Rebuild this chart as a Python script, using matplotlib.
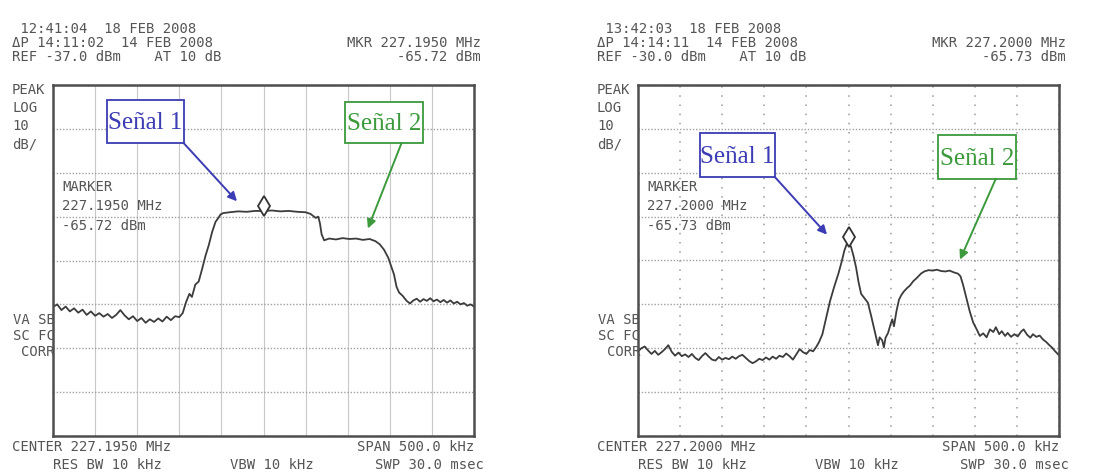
import matplotlib
matplotlib.use('Agg')
import matplotlib.pyplot as plt
from matplotlib import transforms
from matplotlib.patches import Rectangle

W, H = 1104, 476

#----------------------------------------------------------------------
# sweep data: offset from centre frequency (kHz), level (dBm)
#----------------------------------------------------------------------
left_khz = [-250, -245, -240, -235, -230, -225, -220, -215, -210, -205,
            -200, -195, -190, -185, -180, -175, -170, -165, -160, -155,
            -150, -145, -140, -135, -130, -125, -120, -115, -110, -105,
            -100, -96, -92, -88, -85, -81, -77, -73, -69, -65,
            -61, -57, -54, -51, -48, -40, -30, -20, -10, 0,
            10, 20, 30, 40, 50, 56, 62, 65, 67, 69,
            72, 78, 86, 94, 102, 110, 118, 126, 133, 138,
            143, 148, 152, 155, 158, 161, 165, 170, 174, 178,
            182, 186, 190, 194, 198, 202, 206, 210, 214, 218,
            222, 226, 230, 234, 238, 242, 246, 250]
left_dbm = [-87.6, -87.0, -88.3, -87.5, -88.6, -87.9, -88.9, -88.2, -89.4, -88.6,
            -89.6, -89.0, -89.8, -89.2, -90.1, -89.4, -88.3, -89.5, -90.4, -89.7,
            -90.8, -90.1, -91.2, -90.4, -91.0, -90.2, -90.9, -89.8, -90.6, -89.7,
            -89.9, -89.0, -86.5, -84.6, -85.3, -82.5, -81.8, -79.0, -76.0, -73.5,
            -70.5, -68.2, -67.4, -66.5, -66.2, -66.0, -65.8, -65.9, -65.7, -65.72,
            -65.6, -65.8, -65.7, -65.9, -66.0, -66.4, -67.3, -67.0, -68.5, -71.0,
            -72.4, -72.0, -72.2, -71.9, -72.1, -72.0, -72.3, -72.1, -72.6, -73.3,
            -74.5, -76.3, -78.5, -80.2, -83.0, -84.3, -85.0, -86.2, -86.8, -86.1,
            -85.7, -86.4, -85.8, -86.2, -85.6, -86.3, -85.9, -86.5, -86.0, -86.6,
            -86.1, -86.8, -86.4, -87.0, -86.7, -87.3, -87.0, -87.5]

right_khz = [-250, -246, -242, -238, -234, -230, -226, -222, -218, -214,
             -210, -206, -202, -198, -194, -190, -186, -182, -178, -174,
             -170, -166, -162, -158, -154, -150, -146, -142, -138, -134,
             -130, -126, -122, -118, -114, -110, -106, -102, -98, -94,
             -90, -86, -82, -78, -74, -70, -66, -62, -58, -54,
             -50, -46, -42, -38, -35, -31, -27, -22, -17, -12,
             -8, -5, -2, 0, 3, 6, 9, 12, 15, 19,
             23, 27, 31, 35, 37, 40, 42, 44, 47, 50,
             52, 54, 57, 60, 63, 66, 70, 73, 77, 81,
             86, 90, 95, 100, 105, 110, 115, 120, 125, 130,
             133, 136, 139, 141, 144, 148, 152, 156, 160, 164,
             168, 172, 175, 179, 182, 186, 189, 193, 197, 201,
             205, 208, 212, 216, 219, 223, 227, 231, 235, 238,
             242, 245, 248, 250]
right_dbm = [-90.7, -90.0, -89.6, -90.5, -91.3, -90.6, -91.5, -90.9, -90.2, -89.3,
             -90.8, -91.7, -91.0, -91.8, -91.4, -92.0, -91.3, -92.2, -92.7, -91.8,
             -91.1, -91.9, -92.6, -92.8, -92.0, -92.6, -92.2, -92.5, -91.9, -92.4,
             -91.8, -91.5, -92.2, -92.9, -93.4, -93.0, -92.4, -92.7, -92.1, -92.6,
             -91.9, -92.4, -91.7, -92.0, -91.2, -91.8, -92.6, -91.4, -90.2, -90.9,
             -91.3, -90.4, -90.7, -89.6, -88.6, -86.8, -83.5, -79.3, -76.0, -73.0,
             -70.2, -67.8, -66.2, -65.73, -66.9, -69.0, -71.6, -75.0, -77.6, -78.6,
             -79.6, -82.7, -86.0, -89.3, -87.5, -88.2, -89.8, -87.6, -86.5, -84.5,
             -83.4, -85.0, -81.5, -78.9, -77.8, -77.0, -76.2, -75.7, -74.7, -74.0,
             -73.0, -72.5, -72.2, -72.3, -72.1, -72.4, -72.5, -72.3, -72.7, -73.0,
             -73.6, -75.5, -77.8, -79.3, -81.6, -84.1, -85.6, -87.2, -86.6, -87.5,
             -85.7, -86.3, -85.2, -86.8, -86.1, -87.2, -86.5, -87.4, -86.8, -87.3,
             -86.2, -85.7, -86.9, -87.6, -86.8, -87.4, -87.1, -88.0, -88.6, -89.2,
             -89.9, -90.6, -91.2, -91.6]

# instrument state shown around each screen
left_header = [' 12:41:04  18 FEB 2008', 'ΔP 14:11:02  14 FEB 2008',
               'REF -37.0 dBm    AT 10 dB']
right_header = [' 13:42:03  18 FEB 2008', 'ΔP 14:14:11  14 FEB 2008',
                'REF -30.0 dBm    AT 10 dB']
left_mkr = ['MKR 227.1950 MHz', '-65.72 dBm']
right_mkr = ['MKR 227.2000 MHz', '-65.73 dBm']
left_marker = ['MARKER', '227.1950 MHz', '-65.72 dBm']
right_marker = ['MARKER', '227.2000 MHz', '-65.73 dBm']
left_footer = ['CENTER 227.1950 MHz', 'RES BW 10 kHz', 'VBW 10 kHz',
               'SPAN 500.0 kHz', 'SWP 30.0 msec']
right_footer = ['CENTER 227.2000 MHz', 'RES BW 10 kHz', 'VBW 10 kHz',
                'SPAN 500.0 kHz', 'SWP 30.0 msec']
side_top = ['PEAK', 'LOG', '10', 'dB/']
side_bot = ['VA SB', 'SC FC', 'CORR']
ref_level = [-37.0, -30.0]
mkr_level = [-65.72, -65.73]

# annotation boxes: label, colour, box (axes fraction), arrow tail (axes fraction), arrow tip (kHz, dBm)
left_notes = [('Señal 1', '#3c3cb4', (0.128, 0.835, 0.183, 0.122), (0.310, 0.835), (-31.5, -63.5)),
              ('Señal 2', '#3c9a3c', (0.693, 0.835, 0.186, 0.117), (0.828, 0.835), (124.0, -69.7))]
right_notes = [('Señal 1', '#3c3cb4', (0.147, 0.738, 0.178, 0.125), (0.325, 0.738), (-25.5, -64.1)),
               ('Señal 2', '#3c9a3c', (0.713, 0.733, 0.186, 0.125), (0.850, 0.733), (132.4, -69.8))]

MONO = 'DejaVu Sans Mono'
TXT = '#555555'


def ftext(fig, x, y, s, ha='left', **kw):
    # x, y in pixels from top-left
    fig.text(x / W, 1 - y / H, s, ha=ha, va='center', family=MONO,
             fontsize=10, color=TXT, **kw)


def draw_panel(fig, x0, khz, dbm, ref, mkr, header, mkrtxt, markertxt,
               footer, notes, dotted_vert):
    x1 = x0 + 421
    ax = fig.add_axes([x0 / W, 1 - 436 / H, 421 / W, 351 / H])
    ax.set_xlim(-250, 250)
    ax.set_ylim(ref - 80, ref)
    ax.set_xticks(range(-250, 251, 50))
    ax.set_yticks([ref - 10 * i for i in range(9)])
    ax.tick_params(length=0, labelbottom=False, labelleft=False)

    # graticule
    if dotted_vert:
        ax.xaxis.grid(True, color='#9a9a9a', lw=1.1, ls=(0, (1.0, 5.0)))
    else:
        ax.xaxis.grid(True, color='#c8c8c8', lw=0.8, ls='-')
    ax.yaxis.grid(True, color='#a0a0a0', lw=1.0, ls=(0, (1.0, 1.3)))
    ax.set_axisbelow(True)
    for sp in ax.spines.values():
        sp.set_color('#4e4e4e')
        sp.set_linewidth(1.8)

    ax.plot(khz, dbm, color='#3c3c3c', lw=1.3)

    # marker diamond sits on top of the trace
    up = transforms.offset_copy(ax.transData, fig=fig, y=5, units='dots')
    ax.plot([0], [mkr], marker='d', ms=10, mfc='white', mec='#333333',
            mew=1.3, transform=up)

    for label, col, (bx, by, bw, bh), tail, tip in notes:
        ax.add_patch(Rectangle((bx, by), bw, bh, transform=ax.transAxes,
                               facecolor='white', edgecolor=col, lw=1.3,
                               zorder=4))
        ax.text(bx + bw / 2, by + bh / 2 - 0.005, label, transform=ax.transAxes,
                ha='center', va='center', family='Liberation Serif',
                fontsize=18, color=col, zorder=5)
        ax.annotate('', xy=tip, xycoords='data', xytext=tail,
                    textcoords='axes fraction',
                    arrowprops=dict(arrowstyle='-|>', color=col, lw=1.4,
                                    mutation_scale=13, shrinkA=0, shrinkB=0),
                    zorder=5)

    # screen annotations
    xl = x0 - 41
    for i, s in enumerate(header):
        ftext(fig, xl, 29 + 14 * i, s)
    for i, s in enumerate(mkrtxt):
        ftext(fig, x1 + 7, 43 + 14 * i, s, ha='right')
    for i, s in enumerate(side_top):
        ftext(fig, xl, 90 + 18 * i, s)
    for i, s in enumerate(markertxt):
        ftext(fig, x0 + 9, 187 + 19.5 * i, s)
    for i, s in enumerate(side_bot):
        ftext(fig, x0 + 2, 320 + 16 * i, s, ha='right')
    ftext(fig, xl, 447, footer[0])
    ftext(fig, x0, 465, footer[1])
    ftext(fig, x0 + 177, 465, footer[2])
    ftext(fig, x1, 447, footer[3], ha='right')
    ftext(fig, x1 + 10, 465, footer[4], ha='right')
    return ax


def main():
    fig = plt.figure(figsize=(W / 100, H / 100), dpi=100)
    fig.patch.set_facecolor('white')

    draw_panel(fig, 53, left_khz, left_dbm, ref_level[0], mkr_level[0],
               left_header, left_mkr, left_marker, left_footer, left_notes,
               dotted_vert=False)
    draw_panel(fig, 638, right_khz, right_dbm, ref_level[1], mkr_level[1],
               right_header, right_mkr, right_marker, right_footer, right_notes,
               dotted_vert=True)

    fig.savefig('out.png', dpi=100)


if __name__ == '__main__':
    main()
